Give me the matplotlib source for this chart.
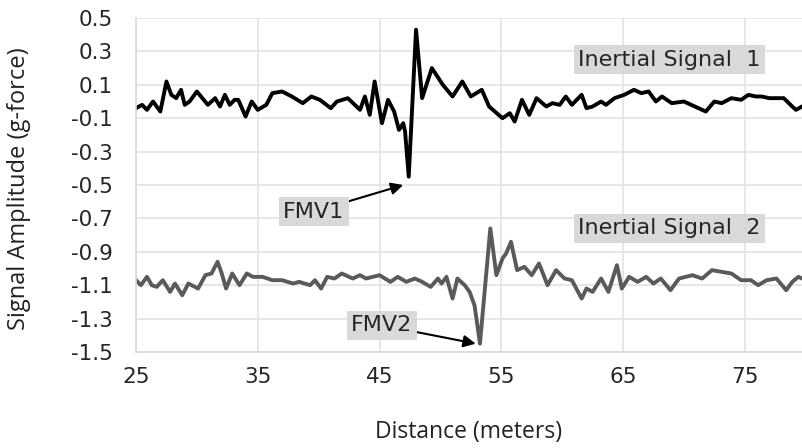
import numpy as np
import matplotlib
matplotlib.use("Agg")
import matplotlib.pyplot as plt

# distance (m) / amplitude (g)
dist_1 = [25.0, 25.5, 25.9, 26.4, 27.0, 27.5, 27.9, 28.3, 28.7, 29.0, 29.4, 30.0,
          30.9, 31.5, 31.9, 32.3, 32.7, 33.1, 33.4, 34.0, 34.5, 35.0, 35.7, 36.2,
          37.0, 37.8, 38.7, 39.4, 40.1, 41.0, 41.5, 42.4, 43.4, 43.8, 44.2, 44.6,
          45.2, 45.7, 46.2, 46.6, 46.95, 47.1, 47.4, 48.0, 48.5, 49.3, 50.2, 51.0,
          51.8, 52.5, 53.4, 54.0, 55.1, 55.7, 56.1, 56.7, 57.3, 57.9, 58.7, 59.2,
          59.8, 60.3, 60.8, 61.6, 62.0, 62.5, 63.2, 63.6, 64.3, 65.1, 65.9, 66.5,
          67.1, 67.7, 68.2, 69.0, 70.0, 70.6, 71.8, 72.5, 73.1, 73.9, 74.7, 75.3,
          75.9, 76.4, 77.0, 77.6, 78.2, 78.9, 79.2, 79.7]
amp_1 = [-0.04, -0.02, -0.05, 0.00, -0.06, 0.12, 0.04, 0.02, 0.07, -0.02, 0.00, 0.06,
         -0.02, 0.02, -0.03, 0.04, -0.02, 0.01, 0.01, -0.09, 0.00, -0.05, -0.02, 0.05,
         0.06, 0.03, -0.01, 0.03, 0.01, -0.04, 0.00, 0.02, -0.05, 0.03, -0.08, 0.12,
         -0.13, 0.01, -0.06, -0.17, -0.13, -0.18, -0.45, 0.43, 0.02, 0.20, 0.10, 0.03,
         0.12, 0.03, 0.07, -0.03, -0.10, -0.07, -0.12, 0.01, -0.08, 0.02, -0.03, -0.01,
         -0.02, 0.03, -0.02, 0.04, -0.04, -0.03, 0.00, -0.02, 0.02, 0.04, 0.07, 0.05,
         0.06, 0.00, 0.03, -0.01, 0.00, -0.02, -0.06, 0.00, -0.01, 0.02, 0.01, 0.04,
         0.03, 0.03, 0.02, 0.02, 0.02, -0.03, -0.05, -0.03]

dist_2 = [25.0, 25.4, 25.9, 26.3, 26.7, 27.2, 27.8, 28.2, 28.8, 29.3, 30.1, 30.7,
          31.2, 31.7, 32.0, 32.4, 32.9, 33.5, 34.1, 34.6, 35.4, 36.2, 37.0, 37.9,
          38.4, 39.3, 39.7, 40.2, 40.7, 41.3, 41.9, 42.5, 42.8, 43.4, 43.9, 45.0,
          45.9, 46.5, 47.2, 47.9, 48.5, 49.2, 49.8, 50.1, 50.5, 51.0, 51.4, 52.0,
          52.4, 52.8, 53.0, 53.25, 54.1, 54.6, 55.1, 55.4, 55.8, 56.3, 56.9, 57.5,
          58.1, 58.8, 59.5, 60.2, 60.8, 61.6, 62.0, 62.5, 63.2, 63.8, 64.5, 64.9,
          65.5, 66.2, 66.9, 67.5, 68.1, 68.9, 69.6, 70.7, 71.5, 72.3, 73.1, 73.9,
          74.7, 75.5, 76.1, 76.8, 77.6, 78.4, 78.9, 79.4, 79.7]
amp_2 = [-1.07, -1.10, -1.05, -1.10, -1.11, -1.07, -1.14, -1.09, -1.16, -1.09, -1.12, -1.04,
         -1.03, -0.96, -1.02, -1.12, -1.03, -1.10, -1.03, -1.05, -1.05, -1.07, -1.07, -1.09,
         -1.08, -1.10, -1.07, -1.12, -1.05, -1.06, -1.03, -1.05, -1.06, -1.04, -1.06, -1.04,
         -1.08, -1.05, -1.08, -1.06, -1.08, -1.11, -1.06, -1.09, -1.05, -1.18, -1.06, -1.10,
         -1.14, -1.22, -1.32, -1.45, -0.76, -1.04, -0.94, -0.91, -0.84, -1.01, -0.99, -1.04,
         -0.97, -1.10, -1.01, -1.06, -1.07, -1.18, -1.12, -1.14, -1.06, -1.14, -0.98, -1.12,
         -1.05, -1.08, -1.05, -1.09, -1.06, -1.13, -1.06, -1.04, -1.06, -1.01, -1.02, -1.03,
         -1.07, -1.07, -1.10, -1.07, -1.06, -1.13, -1.08, -1.05, -1.06]

x_ticks = [25, 35, 45, 55, 65, 75]
y_ticks = [0.5, 0.3, 0.1, -0.1, -0.3, -0.5, -0.7, -0.9, -1.1, -1.3, -1.5]

fig = plt.figure(figsize=(8.02, 4.48), dpi=100)
ax = fig.add_axes([136 / 802, 1 - 352 / 448, 1 - 136 / 802, (352 - 18) / 448])

ax.plot(dist_1, amp_1, color="black", lw=2.8, solid_joinstyle="round")
ax.plot(dist_2, amp_2, color="#5a5a5a", lw=2.8, solid_joinstyle="round")

ax.set_xlim(25, 79.7)
ax.set_ylim(-1.5, 0.5)
ax.set_xticks(x_ticks)
ax.set_yticks(y_ticks)
ax.set_yticklabels([f"{v:.1f}" for v in y_ticks])
ax.tick_params(length=0, labelsize=15.5, colors="#262626")
ax.tick_params(axis="y", pad=17)
ax.tick_params(axis="x", pad=11)
for lab in ax.get_xticklabels() + ax.get_yticklabels():
    lab.set_family("DejaVu Sans")
ax.grid(True, color="#e3e3e3", lw=1.2)
ax.set_axisbelow(True)
for s in ["top", "right"]:
    ax.spines[s].set_visible(False)
for s in ["left", "bottom"]:
    ax.spines[s].set_color("#d9d9d9")
    ax.spines[s].set_linewidth(1.2)

ax.set_xlabel("Distance (meters)", fontsize=16.5, family="Open Sans", color="#222222")
ax.set_ylabel("Signal Amplitude (g-force)", fontsize=17, family="Open Sans", color="#222222")
ax.xaxis.set_label_coords(0.5, -0.205)
ax.yaxis.set_label_coords(-0.158, 0.49)

box = dict(boxstyle="square,pad=0.2", fc="#d9d9d9", ec="none")
txt = dict(fontsize=16, family="DejaVu Sans", color="#262626", ha="center", va="center", bbox=box)
ax.text(68.8, 0.25, "Inertial Signal  1", **txt)
ax.text(68.8, -0.76, "Inertial Signal  2", **txt)
arrow = dict(arrowstyle="-|>", color="black", lw=1.5, mutation_scale=18, shrinkA=0, shrinkB=0)
ax.annotate("FMV1", xy=(46.95, -0.5), xytext=(39.6, -0.66), arrowprops=arrow, **txt)
ax.annotate("FMV2", xy=(52.9, -1.45), xytext=(45.2, -1.34), arrowprops=arrow, **txt)

fig.savefig("out.png", dpi=100)
